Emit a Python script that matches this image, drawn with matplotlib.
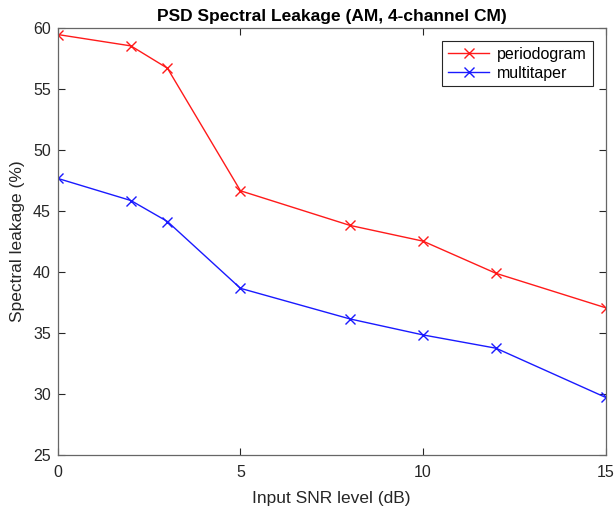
import matplotlib

matplotlib.use("Agg")
import matplotlib.pyplot as plt

snr_db = [0, 2, 3, 5, 8, 10, 12, 15]
periodogram = [59.48, 58.55, 56.72, 46.67, 43.83, 42.54, 39.9, 37.08]
multitaper = [47.68, 45.87, 44.15, 38.67, 36.16, 34.85, 33.76, 29.73]

plt.rcParams["font.family"] = ["Liberation Sans", "DejaVu Sans"]

fig = plt.figure(figsize=(6.16, 5.13), dpi=100)
ax = fig.add_axes([0.094, 0.113, 0.889, 0.832])

ax.plot(snr_db, periodogram, color="#ff1a1a", lw=1.0, marker="x", ms=6.5, mew=1.0,
        label="periodogram")
ax.plot(snr_db, multitaper, color="#1a1aff", lw=1.0, marker="x", ms=6.5, mew=1.0,
        label="multitaper")

ax.set_xlim(0, 15)
ax.set_ylim(25, 60)
ax.set_xticks([0, 5, 10, 15])
ax.set_yticks(range(25, 61, 5))
ax.tick_params(direction="in", top=True, right=True, labelsize=11.5,
               colors="#262626", length=5, width=0.8)
ax.tick_params(axis="x", pad=7)
ax.tick_params(axis="y", pad=5)
for s in ax.spines.values():
    s.set_color("#666666")
    s.set_linewidth(0.9)

ax.set_xlabel("Input SNR level (dB)", fontsize=12.5, color="#262626", labelpad=8)
ax.set_ylabel("Spectral leakage (%)", fontsize=12.5, color="#262626", labelpad=6)
ax.set_title("PSD Spectral Leakage (AM, 4-channel CM)", fontsize=12.5,
             fontweight="bold", pad=5)

leg = ax.legend(loc="upper right", fontsize=11.5, fancybox=False, framealpha=1,
                edgecolor="#262626", borderaxespad=0.8, handlelength=2.6,
                handletextpad=0.5, labelspacing=0.25, borderpad=0.35)
leg.get_frame().set_linewidth(0.8)

fig.savefig("out.png", dpi=100)
